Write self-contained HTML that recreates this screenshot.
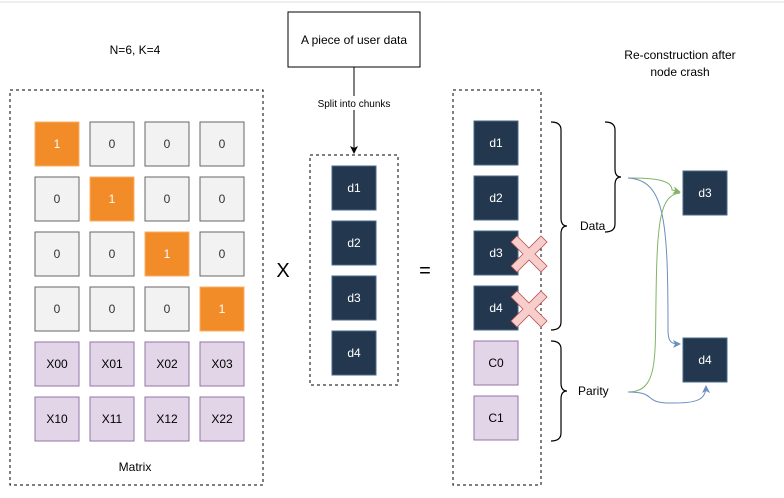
<!DOCTYPE html>
<html><head><style>
body{margin:0;background:#fff;}
svg text{font-family:"Liberation Sans",sans-serif;}
</style></head><body>
<svg width="784" height="493" viewBox="0 0 784 493" xmlns="http://www.w3.org/2000/svg">
<defs>
<marker id="ak" markerWidth="8" markerHeight="8" refX="7" refY="4" orient="auto" markerUnits="userSpaceOnUse"><path d="M0,0 L8,4 L0,8 L2,4z" fill="#000"/></marker>
<marker id="ag" markerWidth="8" markerHeight="8" refX="7" refY="4" orient="auto" markerUnits="userSpaceOnUse"><path d="M0,0 L8,4 L0,8 L2,4z" fill="#82b366"/></marker>
<marker id="ab" markerWidth="8" markerHeight="8" refX="7" refY="4" orient="auto" markerUnits="userSpaceOnUse"><path d="M0,0 L8,4 L0,8 L2,4z" fill="#6c8ebf"/></marker>
</defs>
<line x1="0" y1="2" x2="784" y2="2" stroke="#ddd"/>
<text x="135" y="54" font-size="12" text-anchor="middle">N=6, K=4</text>
<rect x="10" y="90" width="253" height="395" fill="none" stroke="#000" stroke-dasharray="3,3"/>
<g font-size="12" text-anchor="middle">
<!-- matrix rows -->
<g id="m">
</g>
</g>
<g font-size="12" text-anchor="middle" id="cells"></g>
<text x="135" y="471" font-size="12" text-anchor="middle">Matrix</text>
<rect x="288" y="12" width="132" height="55" fill="#fff" stroke="#000"/>
<text x="354" y="44" font-size="12" text-anchor="middle">A piece of user data</text>
<line x1="354" y1="67" x2="354" y2="153" stroke="#000" marker-end="url(#ak)"/>
<rect x="306" y="96" width="96" height="14" fill="#fff"/>
<text x="354" y="107" font-size="10" text-anchor="middle">Split into chunks</text>
<rect x="310" y="155" width="88" height="230" fill="none" stroke="#000" stroke-dasharray="3,3"/>
<g fill="#23384f" stroke="#4a6a8a"><rect x="332" y="166" width="44" height="44"/><rect x="332" y="221" width="44" height="44"/><rect x="332" y="276" width="44" height="44"/><rect x="332" y="331" width="44" height="44"/></g>
<g fill="#fff" font-size="12" text-anchor="middle"><text x="354" y="192">d1</text><text x="354" y="247">d2</text><text x="354" y="302">d3</text><text x="354" y="357">d4</text></g>
<text x="283" y="277" font-size="20" text-anchor="middle">X</text>
<text x="425" y="277" font-size="20" text-anchor="middle">=</text>
<rect x="453" y="90" width="88" height="395" fill="none" stroke="#000" stroke-dasharray="3,3"/>
<g fill="#23384f" stroke="#4a6a8a"><rect x="474" y="121" width="44" height="44"/><rect x="474" y="176" width="44" height="44"/><rect x="474" y="231" width="44" height="44"/><rect x="474" y="286" width="44" height="44"/><rect x="683" y="171" width="44" height="44"/><rect x="683" y="338" width="44" height="44"/></g>
<g fill="#fff" font-size="12" text-anchor="middle"><text x="496" y="147">d1</text><text x="496" y="202">d2</text><text x="496" y="257">d3</text><text x="496" y="312">d4</text><text x="705" y="197">d3</text><text x="705" y="364">d4</text></g>
<g fill="#e1d5e7" stroke="#9673a6"><rect x="474" y="341" width="44" height="44"/><rect x="474" y="396" width="44" height="44"/></g>
<g font-size="12" text-anchor="middle"><text x="496" y="367">C0</text><text x="496" y="422">C1</text></g>
<g fill="#f8cecc" stroke="#b85450" stroke-width="0.8">
<path id="x1" d="M517,236 l12,12 l12,-12 l6,6 l-12,12 l12,12 l-6,6 l-12,-12 l-12,12 l-6,-6 l12,-12 l-12,-12z"/>
<path d="M517,291 l12,12 l12,-12 l6,6 l-12,12 l12,12 l-6,6 l-12,-12 l-12,12 l-6,-6 l12,-12 l-12,-12z"/>
</g>
<g fill="none" stroke="#000" stroke-width="1.2">
<path d="M551,122 q10,0 10,8 v88 q0,8 6,8 q-6,0 -6,8 v88 q0,8 -10,8"/>
<path d="M551,341 q10,0 10,8 v34 q0,8 6,8 q-6,0 -6,8 v34 q0,8 -10,8"/>
<path d="M605,122 q10,0 10,8 v39 q0,8 6,8 q-6,0 -6,8 v39 q0,8 -10,8"/>
</g>
<text x="580" y="230" font-size="12">Data</text>
<text x="578" y="395" font-size="12">Parity</text>
<path d="M628,178 C655,178 672,180 672,190 L680,192" fill="none" stroke="#82b366" marker-end="url(#ag)"/>
<path d="M628,178 C665,180 668,220 668,330 C668,343 672,344 680,344" fill="none" stroke="#6c8ebf" marker-end="url(#ab)"/>
<path d="M628,392 C658,392 655,360 656,300 C657,220 660,195 680,193" fill="none" stroke="#82b366"/>
<path d="M628,392 C660,392 640,404 675,403 C700,403 706,398 706,386" fill="none" stroke="#6c8ebf" marker-end="url(#ab)"/>
<text x="680" y="59" font-size="12" text-anchor="middle">Re-construction after</text>
<text x="680" y="76" font-size="12" text-anchor="middle">node crash</text>
<g font-size="12" text-anchor="middle">
<g fill="#f28c28" stroke="#f5b16b"><rect x="35" y="122" width="44" height="44"/><rect x="90" y="177" width="44" height="44"/><rect x="145" y="232" width="44" height="44"/><rect x="200" y="287" width="44" height="44"/></g>
<g fill="#f2f2f2" stroke="#666">
<rect x="90" y="122" width="44" height="44"/><rect x="145" y="122" width="44" height="44"/><rect x="200" y="122" width="44" height="44"/>
<rect x="35" y="177" width="44" height="44"/><rect x="145" y="177" width="44" height="44"/><rect x="200" y="177" width="44" height="44"/>
<rect x="35" y="232" width="44" height="44"/><rect x="90" y="232" width="44" height="44"/><rect x="200" y="232" width="44" height="44"/>
<rect x="35" y="287" width="44" height="44"/><rect x="90" y="287" width="44" height="44"/><rect x="145" y="287" width="44" height="44"/>
</g>
<g fill="#e1d5e7" stroke="#9673a6">
<rect x="35" y="342" width="44" height="44"/><rect x="90" y="342" width="44" height="44"/><rect x="145" y="342" width="44" height="44"/><rect x="200" y="342" width="44" height="44"/>
<rect x="35" y="397" width="44" height="44"/><rect x="90" y="397" width="44" height="44"/><rect x="145" y="397" width="44" height="44"/><rect x="200" y="397" width="44" height="44"/>
</g>
<g fill="#fff"><text x="57" y="148">1</text><text x="112" y="203">1</text><text x="167" y="258">1</text><text x="222" y="313">1</text></g>
<g fill="#333">
<text x="112" y="148">0</text><text x="167" y="148">0</text><text x="222" y="148">0</text>
<text x="57" y="203">0</text><text x="167" y="203">0</text><text x="222" y="203">0</text>
<text x="57" y="258">0</text><text x="112" y="258">0</text><text x="222" y="258">0</text>
<text x="57" y="313">0</text><text x="112" y="313">0</text><text x="167" y="313">0</text>
</g>
<g fill="#000">
<text x="57" y="368">X00</text><text x="112" y="368">X01</text><text x="167" y="368">X02</text><text x="222" y="368">X03</text>
<text x="57" y="423">X10</text><text x="112" y="423">X11</text><text x="167" y="423">X12</text><text x="222" y="423">X22</text>
</g>
</g>
</svg>
</body></html>
